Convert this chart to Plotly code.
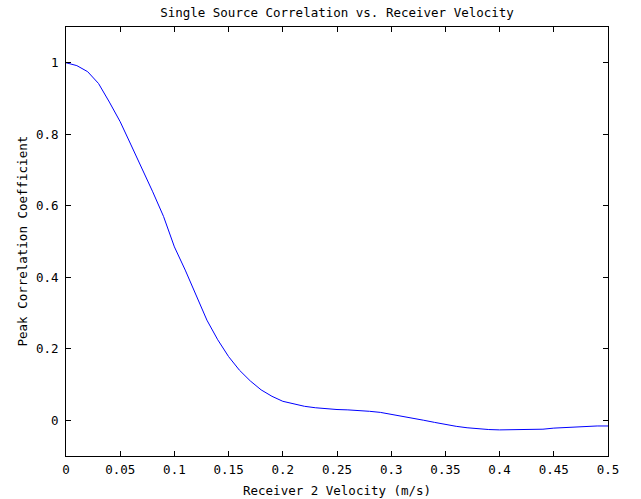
import plotly.graph_objects as go

velocity = [0.0, 0.01, 0.02, 0.03, 0.04, 0.05, 0.06, 0.07, 0.08, 0.09,
            0.10, 0.11, 0.12, 0.13, 0.14, 0.15, 0.16, 0.17, 0.18, 0.19,
            0.20, 0.21, 0.22, 0.23, 0.24, 0.25, 0.26, 0.27, 0.28, 0.29,
            0.30, 0.31, 0.32, 0.33, 0.34, 0.35, 0.36, 0.37, 0.38, 0.39,
            0.40, 0.41, 0.42, 0.43, 0.44, 0.45, 0.46, 0.47, 0.48, 0.49, 0.50]
correlation = [1.0, 0.992, 0.975, 0.942, 0.89, 0.835, 0.77, 0.705, 0.639, 0.57,
               0.485, 0.42, 0.348, 0.28, 0.225, 0.178, 0.14, 0.11, 0.085, 0.067,
               0.053, 0.045, 0.039, 0.035, 0.032, 0.030, 0.029, 0.028, 0.025, 0.022,
               0.017, 0.012, 0.006, 0.0, -0.006, -0.012, -0.017, -0.021, -0.024, -0.026,
               -0.027, -0.027, -0.027, -0.026, -0.025, -0.022, -0.020, -0.018, -0.017, -0.016, -0.016]

x_ticks = [0, 0.05, 0.1, 0.15, 0.2, 0.25, 0.3, 0.35, 0.4, 0.45, 0.5]
x_labels = ["0", "0.05", "0.1", "0.15", "0.2", "0.25", "0.3", "0.35", "0.4", "0.45", "0.5"]
y_ticks = [0, 0.2, 0.4, 0.6, 0.8, 1]
y_labels = ["0", "0.2", "0.4", "0.6", "0.8", "1"]

FONT = "DejaVu Sans Mono"
FS = 12.5
W, H = 641, 499
L, R, T, B = 66, 33, 27, 43

fig = go.Figure()
fig.add_trace(go.Scatter(x=velocity, y=correlation, mode="lines",
                         line=dict(color="#0000ff", width=1), showlegend=False))

axis_common = dict(showline=True, linecolor="black", linewidth=1, mirror="ticks",
                   ticks="inside", ticklen=5, tickcolor="black", showgrid=False,
                   zeroline=False, automargin=False,
                   tickfont=dict(family=FONT, size=FS, color="black"))

fig.update_layout(
    width=W, height=H,
    margin=dict(l=L, r=R, t=T, b=B, autoexpand=False),
    paper_bgcolor="white", plot_bgcolor="white",
    title=dict(text="Single Source Correlation vs. Receiver Velocity",
               font=dict(family=FONT, size=FS, color="black"),
               x=(L + W - R) / 2 / W, xanchor="center",
               yref="container", y=1 - 13 / H, yanchor="middle"),
    xaxis=dict(range=[0, 0.5], tickvals=x_ticks, ticktext=x_labels,
               ticklabelstandoff=2, **axis_common),
    yaxis=dict(range=[-0.1, 1.1], tickvals=y_ticks, ticktext=y_labels,
               ticklabelstandoff=4, **axis_common),
)

fig.add_annotation(text="Receiver 2 Velocity (m/s)", xref="paper", yref="paper",
                   x=0.5, y=-(490 - (H - B)) / (H - T - B), xanchor="center", yanchor="middle",
                   showarrow=False, font=dict(family=FONT, size=FS, color="black"))
fig.add_annotation(text="Peak Correlation Coefficient", xref="paper", yref="paper",
                   x=-(L - 22) / (W - L - R), y=0.5, xanchor="center", yanchor="middle",
                   textangle=-90, showarrow=False,
                   font=dict(family=FONT, size=FS, color="black"))

fig.write_html("out.html")
